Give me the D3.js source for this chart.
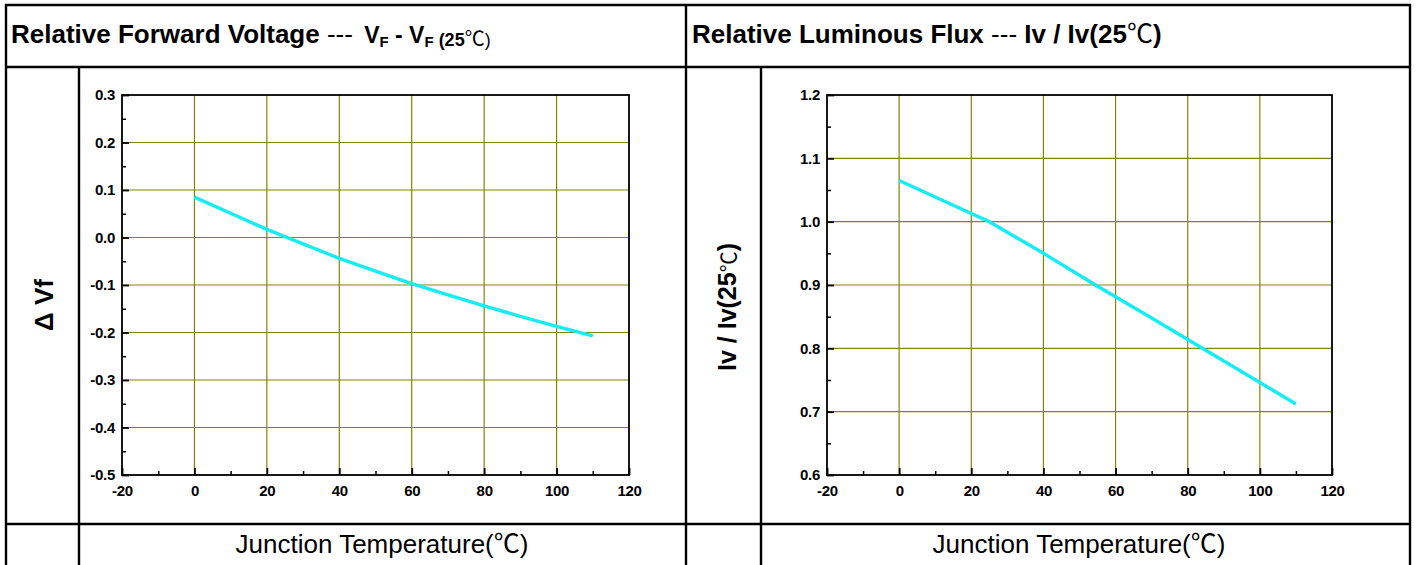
<!DOCTYPE html>
<html>
<head>
<meta charset="utf-8">
<script src="https://cdn.jsdelivr.net/npm/d3@7"></script>
<style>
  html, body { margin: 0; padding: 0; background: #fff; }
  svg { display: block; }
  .tick text { font-family: "Liberation Sans", Arial, sans-serif; font-weight: bold; font-size: 15px; fill: #000; letter-spacing: -0.3px; }
</style>
</head>
<body>
<svg id="chart" width="1416" height="565"></svg>
<script>
// Junction temperature (°C) sample points, forward-voltage panel
const tempVf = [0, 10, 20, 40, 50, 60, 70, 80, 90, 100, 110];
// Change in forward voltage relative to 25 °C (V)
const deltaVf = [0.085, 0.051, 0.017, -0.044, -0.071, -0.097, -0.121, -0.144, -0.166, -0.187, -0.207];

// Junction temperature (°C) sample points, luminous-flux panel
const tempIv = [0, 10, 20, 25, 40, 55, 70, 85, 100, 110];
// Luminous flux relative to 25 °C
const relIv = [1.065, 1.039, 1.013, 1.0, 0.95, 0.898, 0.848, 0.797, 0.746, 0.712];

// Axis ticks
const xTicks = [-20, 0, 20, 40, 60, 80, 100, 120];
const yTicksVf = [-0.5, -0.4, -0.3, -0.2, -0.1, 0.0, 0.1, 0.2, 0.3];
const yTicksIv = [0.6, 0.7, 0.8, 0.9, 1.0, 1.1, 1.2];

const svg = d3.select("#chart");
const FONT = '"Liberation Sans", Arial, sans-serif';
const CJK = '"Noto Sans CJK SC", sans-serif';
const GRID = "#848408";
const LINE = "#14eef2";

// ---------- table frame ----------
const frame = svg.append("g").attr("stroke", "#000").attr("stroke-width", 2.4);
const hLine = (x1, x2, y) => frame.append("line").attr("x1", x1).attr("x2", x2).attr("y1", y).attr("y2", y);
const vLine = (x, y1, y2) => frame.append("line").attr("x1", x).attr("x2", x).attr("y1", y1).attr("y2", y2);
hLine(5, 1411, 5);
hLine(5, 1411, 67);
hLine(5, 1411, 524);
vLine(6, 4, 565);
vLine(1410, 4, 565);
vLine(686, 4, 565);
vLine(79, 67, 565);
vLine(761, 67, 565);

// ---------- titles ----------
function title(x, parts) {
  const t = svg.append("text").attr("x", x).attr("y", 43)
    .attr("font-family", FONT).attr("font-size", 26).attr("font-weight", "bold").attr("fill", "#000");
  parts.forEach(p => {
    const s = t.append("tspan").text(p.text);
    if (p.weight) s.attr("font-weight", p.weight);
    if (p.size) s.attr("font-size", p.size);
    if (p.family) s.attr("font-family", p.family);
    if (p.dy) s.attr("dy", p.dy);
    if (p.dx) s.attr("dx", p.dx);
  });
}
title(11, [
  { text: "Relative Forward Voltage " },
  { text: "--- ", weight: "normal" },
  { text: "V", size: 23, dx: 4 },
  { text: "F", size: 15, dy: 4 },
  { text: " - ", size: 23, dy: -4 },
  { text: "V", size: 23 },
  { text: "F", size: 15, dy: 4 },
  { text: " (25", size: 18, dy: -1 },
  { text: "℃", size: 20, weight: "normal", family: CJK },
  { text: ")", size: 18, weight: "normal" }
]);
title(692, [
  { text: "Relative Luminous Flux " },
  { text: "--- ", weight: "normal" },
  { text: "Iv / Iv(25" },
  { text: "℃", weight: "normal", family: CJK },
  { text: ")" }
]);

// ---------- bottom captions ----------
function caption(cx) {
  const t = svg.append("text").attr("x", cx).attr("y", 553).attr("text-anchor", "middle")
    .attr("font-family", FONT).attr("font-size", 26).attr("fill", "#000");
  t.append("tspan").text("Junction Temperature(");
  t.append("tspan").attr("font-family", CJK).text("℃");
  t.append("tspan").text(")");
}
caption(382);
caption(1079);

// ---------- y axis titles ----------
function yTitle(x, y, size, build) {
  const t = svg.append("text").attr("transform", `translate(${x},${y}) rotate(-90)`)
    .attr("text-anchor", "middle").attr("font-family", FONT).attr("font-size", size)
    .attr("font-weight", "bold").attr("fill", "#000");
  build(t);
}
yTitle(53, 305, 26, t => t.text("Δ Vf"));
yTitle(736, 307, 25, t => {
  t.append("tspan").text("Iv / Iv(25");
  t.append("tspan").attr("font-family", CJK).attr("font-weight", "normal").attr("font-size", 21).text("℃");
  t.append("tspan").text(")");
});

// ---------- plot panels ----------
const hyphenFmt = v => d3.format(".1f")(v).replace("−", "-");

function panel(opts) {
  const { left, right, top, bottom, yDomain, yTicks, xs, ys } = opts;
  const x = d3.scaleLinear().domain([-20, 120]).range([left, right]);
  const y = d3.scaleLinear().domain(yDomain).range([bottom, top]);
  const g = svg.append("g");
  const yMinor = yTicks.slice(0, -1).map(v => v + 0.05);
  const xMinor = d3.range(-10, 120, 20);

  // grid
  const grid = g.append("g").attr("stroke", GRID).attr("stroke-width", 1.2);
  xTicks.slice(1, -1).forEach(v => grid.append("line")
    .attr("x1", x(v)).attr("x2", x(v)).attr("y1", top).attr("y2", bottom));
  yTicks.slice(1, -1).forEach(v => grid.append("line")
    .attr("x1", left).attr("x2", right).attr("y1", y(v)).attr("y2", y(v)));

  // curve
  const line = d3.line().x((d, i) => x(xs[i])).y(d => y(d));
  g.append("path").datum(ys).attr("d", line).attr("fill", "none")
    .attr("stroke", LINE).attr("stroke-width", 3.4).attr("stroke-linejoin", "round");

  // frame
  g.append("rect").attr("x", left).attr("y", top).attr("width", right - left).attr("height", bottom - top)
    .attr("fill", "none").attr("stroke", "#000").attr("stroke-width", 1.8);

  // major / minor ticks, pointing inward
  g.append("g").attr("transform", `translate(0,${bottom})`)
    .call(d3.axisBottom(x).tickValues(xTicks).tickSize(-7).tickSizeOuter(0).tickPadding(10)
      .tickFormat(v => String(v)))
    .call(a => a.select(".domain").remove())
    .call(a => a.selectAll(".tick line").attr("stroke-width", 1.8));
  g.append("g").attr("transform", `translate(0,${bottom})`)
    .call(d3.axisBottom(x).tickValues(xMinor).tickSize(-4).tickSizeOuter(0).tickFormat(""))
    .call(a => a.select(".domain").remove())
    .call(a => a.selectAll(".tick line").attr("stroke-width", 1.5));

  g.append("g").attr("transform", `translate(${left},0)`)
    .call(d3.axisLeft(y).tickValues(yTicks).tickSize(-7).tickSizeOuter(0).tickPadding(7)
      .tickFormat(hyphenFmt))
    .call(a => a.select(".domain").remove())
    .call(a => a.selectAll(".tick line").attr("stroke-width", 1.8));
  g.append("g").attr("transform", `translate(${left},0)`)
    .call(d3.axisLeft(y).tickValues(yMinor).tickSize(-4).tickSizeOuter(0).tickFormat(""))
    .call(a => a.select(".domain").remove())
    .call(a => a.selectAll(".tick line").attr("stroke-width", 1.5));
}

panel({
  left: 122, right: 629, top: 95, bottom: 475,
  yDomain: [-0.5, 0.3], yTicks: yTicksVf, xs: tempVf, ys: deltaVf
});
panel({
  left: 827, right: 1332, top: 95, bottom: 475,
  yDomain: [0.6, 1.2], yTicks: yTicksIv, xs: tempIv, ys: relIv
});
</script>
</body>
</html>
